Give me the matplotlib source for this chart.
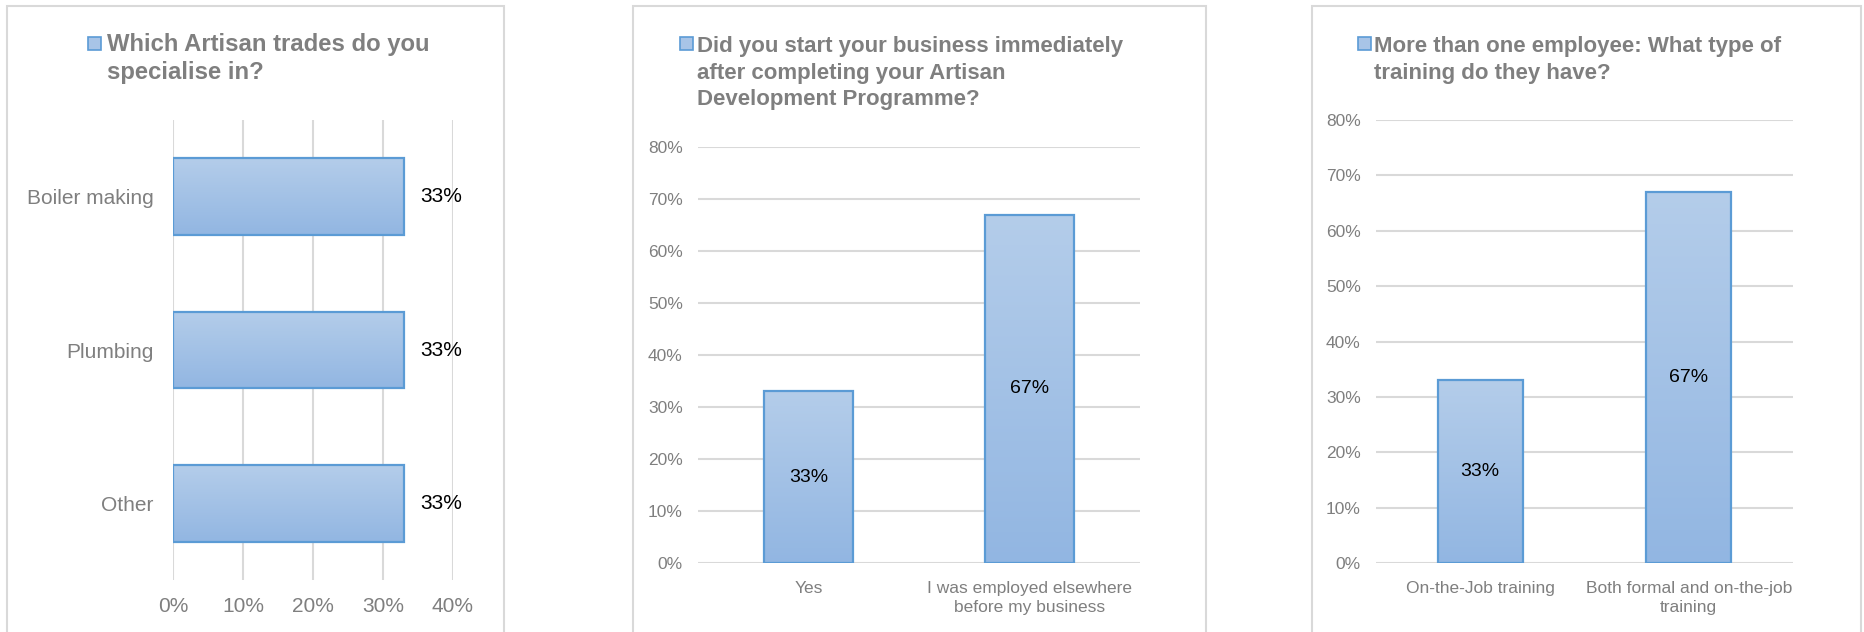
import numpy as np
import matplotlib
matplotlib.use("Agg")
import matplotlib.pyplot as plt
from matplotlib.colors import LinearSegmentedColormap
from matplotlib.patches import Rectangle
from matplotlib.ticker import FuncFormatter, MultipleLocator

plt.rcParams["font.family"] = ["Liberation Sans", "DejaVu Sans"]

# ---- survey results ----
trade_title = ["Which Artisan trades do you", "specialise in?"]
trade_categories = ["Boiler making", "Plumbing", "Other"]
trade_shares = [0.33, 0.33, 0.33]

start_title = ["Did you start your business immediately",
               "after completing your Artisan",
               "Development Programme?"]
start_categories = ["Yes", "I was employed elsewhere\nbefore my business"]
start_shares = [0.33, 0.67]

training_title = ["More than one employee: What type of",
                  "training do they have?"]
training_categories = ["On-the-Job training", "Both formal and on-the-job\ntraining"]
training_shares = [0.33, 0.67]

# ---- styling ----
W, H = 1864, 632
DPI = 100
GRID = "#d9d9d9"
TEXT_GRAY = "#7f7f7f"
EDGE = "#5b9bd5"
bar_cmap = LinearSegmentedColormap.from_list("bar_grad", ["#92b6e2", "#b4cdea"])
pct = FuncFormatter(lambda v, _: f"{v:.0%}")

fig = plt.figure(figsize=(W / DPI, H / DPI), dpi=DPI)


def fx(px):
    return px / W


def fy(py):
    return 1 - py / H


def add_axes_px(left, top, right, bottom):
    return fig.add_axes([fx(left), fy(bottom), (right - left) / W, (bottom - top) / H])


def panel_frame(left, right):
    fig.add_artist(Rectangle((fx(left), fy(660)), (right - left) / W, (660 - 6) / H,
                             transform=fig.transFigure, fill=False,
                             edgecolor=GRID, linewidth=1.5, zorder=0))


def panel_title(lines, square_x, text_x, baselines, size):
    fig.add_artist(Rectangle((fx(square_x), fy(50)), 13 / W, 13 / H,
                             transform=fig.transFigure, facecolor="#a8c4e7",
                             edgecolor=EDGE, linewidth=1.2))
    for line, base in zip(lines, baselines):
        fig.text(fx(text_x), fy(base), line, ha="left", va="baseline",
                 fontsize=size, fontweight="bold", color=TEXT_GRAY)


def gradient_bars(ax, bars):
    for b in bars:
        x0, y0 = b.get_x(), b.get_y()
        w, h = b.get_width(), b.get_height()
        ax.imshow(np.linspace(0, 1, 256).reshape(-1, 1), extent=[x0, x0 + w, y0, y0 + h],
                  origin="lower", aspect="auto", cmap=bar_cmap, zorder=2,
                  interpolation="bilinear")


def clean(ax):
    for s in ax.spines.values():
        s.set_visible(False)
    ax.set_axisbelow(True)


# ---- panel 1: horizontal bars ----
panel_frame(7, 504)
panel_title(trade_title, 88, 107, [51, 78.5], 17.2)
ax1 = add_axes_px(173, 120, 453, 580)
pos1 = np.arange(len(trade_categories))[::-1]
bars1 = ax1.barh(pos1, trade_shares, height=0.5, facecolor="none",
                 edgecolor=EDGE, linewidth=1.6, zorder=3)
gradient_bars(ax1, bars1)
for p, v in zip(pos1, trade_shares):
    ax1.annotate(f"{v:.0%}", (v, p), xytext=(16, 0), textcoords="offset pixels",
                 ha="left", va="center", fontsize=15, color="black")
ax1.set_xlim(0, 0.4)
ax1.set_ylim(-0.5, 2.5)
ax1.xaxis.set_major_locator(MultipleLocator(0.1))
ax1.xaxis.set_major_formatter(pct)
ax1.set_yticks(pos1, trade_categories)
ax1.grid(axis="x", color=GRID, linewidth=1.5)
ax1.tick_params(axis="x", length=0, pad=12, labelsize=15, labelcolor=TEXT_GRAY)
ax1.tick_params(axis="y", length=0, pad=14, labelsize=15, labelcolor=TEXT_GRAY)
clean(ax1)


# ---- panels 2 and 3: vertical bars ----
def column_panel(frame, title, title_pos, axes_px, cats, vals, width):
    panel_frame(*frame)
    panel_title(title, *title_pos, 16)
    ax = add_axes_px(*axes_px)
    xs = np.arange(len(cats))
    bars = ax.bar(xs, vals, width=width, facecolor="none", edgecolor=EDGE,
                  linewidth=1.6, zorder=3)
    gradient_bars(ax, bars)
    for x, v in zip(xs, vals):
        ax.text(x, v / 2, f"{v:.0%}", ha="center", va="center", fontsize=14,
                color="black", zorder=4)
    ax.set_xlim(-0.5, len(cats) - 0.5)
    ax.set_ylim(0, 0.8)
    ax.yaxis.set_major_locator(MultipleLocator(0.1))
    ax.yaxis.set_major_formatter(pct)
    ax.set_xticks(xs)
    ax.set_xticklabels(cats, linespacing=1.35)
    ax.grid(axis="y", color=GRID, linewidth=1.5)
    ax.tick_params(axis="y", length=0, pad=11, labelsize=12.5, labelcolor=TEXT_GRAY)
    ax.tick_params(axis="x", length=0, pad=13, labelsize=12.5, labelcolor=TEXT_GRAY)
    clean(ax)
    return ax


column_panel((633, 1206), start_title, (680, 697, [52, 78.5, 105]),
             (698, 147, 1140, 563), start_categories, start_shares, 0.40)
column_panel((1312, 1861), training_title, (1358, 1374, [52, 78.5]),
             (1376, 120, 1793, 563), training_categories, training_shares, 0.41)

fig.savefig("out.png", dpi=DPI)
